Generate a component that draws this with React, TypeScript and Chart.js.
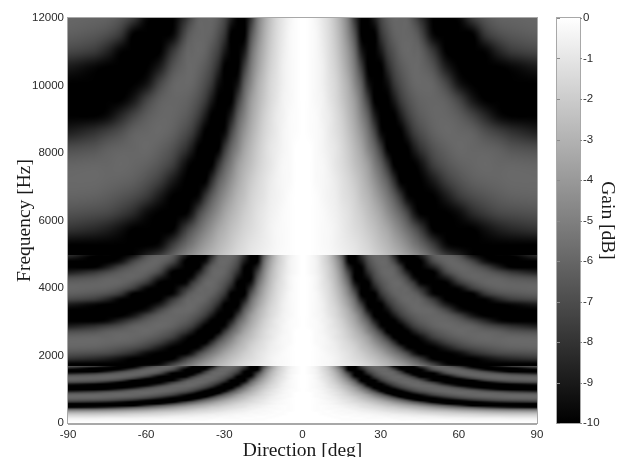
import React, { useEffect, useRef } from "react";
import { Chart, registerables } from "chart.js";

Chart.register(...registerables);

// Direction columns [deg]; the pattern is mirrored around 0.
const directions = [0, 2.5, 5, 7.5, 10, 12.5, 15, 17.5, 20, 22.5, 25, 27.5, 30, 32.5, 35, 37.5, 40, 42.5, 45, 50, 55, 60, 65, 70, 75, 80, 90];
// Rows: frequency relative to each sub-band's reference frequency.
const relFreq = [0, 0.1, 0.2, 0.3, 0.4, 0.5, 0.6, 0.7, 0.8, 0.9, 1, 1.1, 1.2, 1.3, 1.4, 1.5, 1.6, 1.7, 1.8, 1.9, 2, 2.1, 2.2, 2.3, 2.4, 2.5, 2.6, 2.7, 2.8, 2.9, 3, 3.1, 3.2, 3.3];
// Sub-bands: low/high edge [Hz] and reference frequency [Hz]
const bandLow = [0, 1700, 5000];
const bandHigh = [1700, 5000, 12000];
const bandRef = [530, 1600, 4800];
const bandFirstRow = [0, 10, 10];
const bandLastRow = [33, 32, 26];
// Gain [dB], one row per relFreq
const gain = [
  [0,0,0,0,0,0,0,0,0,0,0,0,0,0,0,0,0,0,0,0,0,0,0,0,0,0,0],
  [0,0,0,0,0,0,0,0,0,0,0,0,0,0,0,0,0,0,0,-.1,-.1,-.1,-.1,-.1,-.1,-.1,-.1],
  [0,0,0,0,0,0,-.1,-.1,-.1,-.1,-.1,-.1,-.1,-.1,-.1,-.2,-.2,-.2,-.2,-.2,-.2,-.3,-.3,-.3,-.3,-.3,-.3],
  [0,0,0,0,0,-.1,-.1,-.1,-.1,-.1,-.2,-.2,-.2,-.2,-.3,-.3,-.3,-.3,-.4,-.4,-.5,-.5,-.6,-.6,-.6,-.7,-.7],
  [0,0,0,0,-.1,-.1,-.1,-.1,-.2,-.2,-.2,-.3,-.3,-.4,-.4,-.5,-.5,-.6,-.6,-.7,-.9,-1,-1.1,-1.2,-1.2,-1.3,-1.3],
  [0,0,0,-.1,-.1,-.1,-.2,-.2,-.2,-.3,-.3,-.4,-.5,-.6,-.6,-.7,-.8,-.9,-1,-1.2,-1.4,-1.5,-1.6,-1.8,-1.9,-2,-2],
  [0,0,0,-.1,-.1,-.2,-.2,-.3,-.3,-.4,-.5,-.6,-.7,-.8,-1,-1.1,-1.2,-1.3,-1.5,-1.7,-1.9,-2.2,-2.4,-2.6,-2.8,-2.9,-3],
  [0,0,-.1,-.1,-.1,-.2,-.3,-.3,-.4,-.6,-.7,-.8,-1,-1.2,-1.3,-1.5,-1.6,-1.8,-2,-2.4,-2.7,-3.1,-3.4,-3.7,-4,-4.2,-4.4],
  [0,0,-.1,-.1,-.2,-.2,-.3,-.4,-.6,-.7,-.9,-1.1,-1.3,-1.5,-1.7,-1.9,-2.1,-2.4,-2.7,-3.2,-3.7,-4.3,-4.8,-5.3,-5.7,-6.1,-6.3],
  [0,0,-.1,-.1,-.2,-.3,-.4,-.6,-.7,-1,-1.2,-1.4,-1.6,-1.9,-2.1,-2.5,-2.8,-3.1,-3.4,-4.2,-5.1,-5.9,-6.8,-7.7,-8.5,-9.1,-9.6],
  [0,0,-.1,-.1,-.2,-.3,-.5,-.7,-.9,-1.2,-1.4,-1.7,-2,-2.4,-2.7,-3.1,-3.5,-3.9,-4.5,-5.6,-6.7,-8.2,-9.9,-10,-10,-10,-10],
  [0,0,-.1,-.2,-.3,-.5,-.7,-.9,-1.1,-1.4,-1.7,-2.1,-2.5,-2.9,-3.4,-3.9,-4.5,-5.2,-5.9,-7.6,-9.6,-10,-10,-10,-10,-10,-10],
  [0,0,-.1,-.2,-.3,-.5,-.8,-1.1,-1.4,-1.7,-2.1,-2.5,-3,-3.5,-4.2,-4.9,-5.7,-6.6,-7.7,-10,-10,-10,-10,-9.4,-8.8,-8.4,-8],
  [0,0,-.1,-.2,-.4,-.6,-.9,-1.2,-1.6,-2,-2.5,-3,-3.6,-4.4,-5.2,-6.1,-7.3,-9,-10,-10,-10,-9.5,-8.4,-7.7,-7.2,-7,-6.8],
  [0,0,-.1,-.3,-.5,-.7,-1.1,-1.4,-1.8,-2.4,-2.9,-3.6,-4.4,-5.3,-6.4,-7.9,-9.6,-10,-10,-10,-9,-7.8,-7.1,-6.7,-6.4,-6.2,-6.1],
  [0,0,-.2,-.3,-.5,-.8,-1.2,-1.6,-2.1,-2.7,-3.4,-4.3,-5.3,-6.4,-8.2,-10,-10,-10,-10,-9,-7.6,-6.8,-6.3,-6.1,-6,-5.9,-5.9],
  [0,0,-.2,-.3,-.6,-1,-1.4,-1.9,-2.5,-3.1,-3.9,-5.1,-6.3,-8.1,-10,-10,-10,-10,-9.4,-7.6,-6.7,-6.2,-6,-5.9,-6,-6,-6.1],
  [0,0,-.2,-.4,-.7,-1,-1.5,-2.1,-2.8,-3.6,-4.8,-6,-7.8,-10,-10,-10,-10,-9,-8,-6.8,-6.2,-5.9,-6,-6.1,-6.3,-6.7,-7],
  [0,-.1,-.2,-.4,-.8,-1.2,-1.7,-2.4,-3.2,-4.2,-5.5,-7.3,-9.6,-10,-10,-10,-8.9,-7.7,-7,-6.2,-5.9,-6,-6.2,-6.9,-7.5,-8.1,-8.8],
  [0,-.1,-.2,-.5,-.8,-1.3,-1.9,-2.7,-3.6,-4.9,-6.4,-8.8,-10,-10,-10,-8.9,-7.7,-6.9,-6.4,-6,-6,-6.4,-7.3,-8.5,-9.6,-10,-10],
  [0,-.1,-.3,-.5,-1,-1.5,-2.2,-3,-4,-5.6,-7.7,-10,-10,-10,-9,-7.7,-6.9,-6.4,-6.1,-6,-6.3,-7.4,-9.1,-10,-10,-10,-10],
  [0,-.1,-.3,-.6,-1.1,-1.6,-2.4,-3.3,-4.7,-6.4,-9.2,-10,-10,-9.4,-7.9,-7,-6.4,-6,-5.9,-6.1,-7.3,-9.3,-10,-10,-10,-10,-10],
  [0,-.1,-.3,-.6,-1.2,-1.8,-2.7,-3.8,-5.3,-7.6,-10,-10,-10,-8.4,-7.2,-6.5,-6.1,-5.9,-6,-6.8,-8.9,-10,-10,-10,-10,-9.7,-9],
  [0,-.1,-.3,-.7,-1.3,-2,-3,-4.2,-6,-9,-10,-10,-9,-7.5,-6.7,-6.1,-5.9,-6,-6.2,-7.9,-10,-10,-10,-9.8,-8.6,-7.7,-7.2],
  [0,-.1,-.3,-.8,-1.4,-2.2,-3.3,-4.8,-6.9,-10,-10,-10,-8,-6.9,-6.2,-6,-6,-6.2,-7,-9.7,-10,-10,-10,-7.9,-7,-6.6,-6.3],
  [0,-.1,-.4,-.9,-1.5,-2.4,-3.6,-5.3,-8,-10,-10,-8.9,-7.3,-6.4,-6,-6,-6.1,-6.9,-8.1,-10,-10,-9.7,-7.8,-6.7,-6.2,-6.1,-6],
  [0,-.1,-.4,-1,-1.6,-2.6,-4,-6,-9.2,-10,-10,-8,-6.8,-6.2,-5.9,-6,-6.7,-7.8,-9.7,-10,-10,-8,-6.7,-6.1,-6,-6.1,-6.2],
  [0,-.1,-.4,-1,-1.8,-2.8,-4.4,-6.7,-10,-10,-9.2,-7.3,-6.4,-6,-6,-6.4,-7.5,-9.4,-10,-10,-8.8,-6.8,-6.1,-6.1,-6.2,-6.6,-7],
  [0,-.2,-.5,-1.1,-1.9,-3,-4.8,-7.5,-10,-10,-8.3,-6.9,-6.1,-5.9,-6.1,-7.1,-8.8,-10,-10,-10,-7.3,-6.2,-6.1,-6.4,-7.1,-7.9,-8.8],
  [0,-.2,-.5,-1.2,-2,-3.3,-5.3,-8.6,-10,-9.8,-7.6,-6.5,-6,-6,-6.4,-7.9,-10,-10,-10,-8.6,-6.5,-6,-6.4,-7.4,-8.9,-10,-10],
  [0,-.2,-.5,-1.3,-2.2,-3.6,-5.8,-9.8,-10,-9,-7.1,-6.2,-5.9,-6.1,-7.3,-9.4,-10,-10,-10,-7.2,-6.1,-6.2,-7.3,-9.3,-10,-10,-10],
  [0,-.2,-.6,-1.3,-2.3,-4,-6.4,-10,-10,-8.3,-6.7,-6,-6,-6.4,-8.3,-10,-10,-10,-9.1,-6.5,-6.1,-6.8,-9,-10,-10,-10,-8.5],
  [0,-.2,-.6,-1.4,-2.5,-4.2,-7,-10,-10,-7.6,-6.4,-5.9,-6.1,-7.2,-9.6,-10,-10,-9.8,-7.8,-6.1,-6.3,-8.1,-10,-10,-9,-7.5,-6.8],
  [0,-.2,-.6,-1.5,-2.7,-4.6,-8,-10,-9.4,-7.1,-6.2,-6,-6.4,-8,-10,-10,-10,-8.4,-6.9,-6,-7,-10,-10,-8.2,-7,-6.4,-6],
];

const mirrorIdx = [...directions.keys()].slice(1).reverse();

function bandDataset(b: number) {
  const cols = [...mirrorIdx.map((i) => ({ d: -directions[i], i })), ...directions.map((d, i) => ({ d, i }))];
  const data: { x: number; y: number; v: number }[] = [];
  for (let j = bandFirstRow[b]; j <= bandLastRow[b]; j++) {
    for (const c of cols) data.push({ x: c.d, y: relFreq[j] * bandRef[b], v: gain[j][c.i] });
  }
  return {
    label: `band ${b + 1}`,
    data,
    pointRadius: 0,
    showLine: false,
    nCols: cols.length,
    low: bandLow[b],
    high: bandHigh[b],
  };
}

// Catmull-Rom weights, so that the raster between table entries is smooth
const crWeights = (t: number) => [
  0.5 * (-t + 2 * t * t - t * t * t),
  0.5 * (2 - 5 * t * t + 3 * t * t * t),
  0.5 * (t + 4 * t * t - 3 * t * t * t),
  0.5 * (-t * t + t * t * t),
];

const heatmap = {
  id: "heatmap",
  beforeDatasetsDraw(chart: any) {
    const { ctx, chartArea: a, scales } = chart;
    const X = scales.x, Y = scales.y;
    const W = Math.round(a.right - a.left), H = Math.round(a.bottom - a.top);
    const left = Math.round(a.left), top = Math.round(a.top);
    const img = ctx.createImageData(W, H);
    for (const ds of chart.data.datasets) {
      const n = ds.nCols, rows = ds.data.length / n;
      const yLo = Y.getPixelForValue(ds.low), yHi = Y.getPixelForValue(ds.high);
      const at = (j: number, i: number) =>
        ds.data[Math.max(0, Math.min(rows - 1, j)) * n + Math.max(0, Math.min(n - 1, i))].v;
      for (let j = 0; j < rows - 1; j++) {
        const y0 = Y.getPixelForValue(ds.data[j * n].y), y1 = Y.getPixelForValue(ds.data[(j + 1) * n].y);
        const yStart = Math.ceil(Math.max(y1, yHi)), yEnd = Math.min(y0, yLo);
        for (let i = 0; i < n - 1; i++) {
          const x0 = X.getPixelForValue(ds.data[i].x), x1 = X.getPixelForValue(ds.data[i + 1].x);
          const patch: number[][] = [];
          for (let dj = -1; dj <= 2; dj++) {
            const row: number[] = [];
            for (let di = -1; di <= 2; di++) row.push(at(j + dj, i + di));
            patch.push(row);
          }
          for (let py = yStart; py < yEnd; py++) {
            const wy = crWeights((y0 - py) / (y0 - y1));
            for (let px = Math.ceil(x0); px < x1; px++) {
              const wx = crWeights((px - x0) / (x1 - x0));
              let v = 0;
              for (let q = 0; q < 4; q++) for (let p = 0; p < 4; p++) v += wy[q] * wx[p] * patch[q][p];
              v = Math.max(-10, Math.min(0, v));
              const g = Math.round(255 * (1 + v / 10));
              const o = ((py - top) * W + (px - left)) * 4;
              if (o < 0 || o >= img.data.length) continue;
              img.data[o] = img.data[o + 1] = img.data[o + 2] = g;
              img.data[o + 3] = 255;
            }
          }
        }
      }
    }
    ctx.putImageData(img, left, top);
  },
  afterDatasetsDraw(chart: any) {
    const { ctx, chartArea: a, scales } = chart;
    const G = scales.gain;
    ctx.save();
    ctx.strokeStyle = "#a8a8a8";
    ctx.lineWidth = 1;
    ctx.strokeRect(a.left - 0.5, a.top - 0.5, a.right - a.left + 1, a.bottom - a.top + 1);
    ctx.lineWidth = 2;
    ctx.beginPath();
    ctx.moveTo(a.left, a.bottom + 1);
    ctx.lineTo(a.right, a.bottom + 1);
    ctx.stroke();
    const cx0 = G.left + 20, cx1 = G.left + 43;
    const top = G.getPixelForValue(0), bottom = G.getPixelForValue(-10);
    const grad = ctx.createLinearGradient(0, top, 0, bottom);
    grad.addColorStop(0, "#ffffff");
    grad.addColorStop(1, "#000000");
    ctx.fillStyle = grad;
    ctx.fillRect(cx0, top, cx1 - cx0, bottom - top);
    ctx.lineWidth = 1;
    ctx.strokeRect(cx0 - 0.5, top - 0.5, cx1 - cx0 + 1, bottom - top + 1);
    ctx.strokeStyle = "#8a8a8a";
    for (const t of G.ticks) {
      const y = Math.round(G.getPixelForValue(t.value)) + 0.5;
      ctx.beginPath();
      ctx.moveTo(cx0, y);
      ctx.lineTo(cx0 + 3, y);
      ctx.moveTo(cx1, y);
      ctx.lineTo(cx1 + 2, y);
      ctx.stroke();
    }
    ctx.restore();
  },
};

const tickFont = { family: "'Liberation Sans', Arial, sans-serif", size: 11.5 };
const titleFont = { family: "'Liberation Serif', 'Times New Roman', serif", size: 19.5 };
const tickColor = "#2a2a2a";
const titleColor = "#1a1a1a";
const plainTick = (v: any) => String(v);

export default function App() {
  const ref = useRef<HTMLCanvasElement>(null);
  useEffect(() => {
    const chart = new Chart(ref.current!, {
      type: "scatter",
      data: { datasets: [bandDataset(0), bandDataset(1), bandDataset(2)] as any },
      plugins: [heatmap],
      options: {
        animation: false,
        responsive: false,
        layout: { autoPadding: false, padding: { top: 18, left: 0, right: 0, bottom: 0 } },
        plugins: { legend: { display: false }, tooltip: { enabled: false } },
        scales: {
          x: {
            type: "linear",
            min: -90,
            max: 90,
            grid: { display: false, drawTicks: false },
            border: { display: false },
            ticks: { stepSize: 30, font: tickFont, color: tickColor, padding: 5, maxRotation: 0, autoSkip: false, callback: plainTick },
            title: { display: true, text: "Direction [deg]", font: titleFont, color: titleColor, padding: { top: 0, bottom: -6 } },
            afterFit: (s: any) => { s.height = 34; },
          },
          y: {
            type: "linear",
            min: 0,
            max: 12000,
            grid: { display: false, drawTicks: false },
            border: { display: false },
            ticks: { stepSize: 2000, font: tickFont, color: tickColor, padding: 4, autoSkip: false, callback: plainTick },
            title: { display: true, text: "Frequency [Hz]", font: titleFont, color: titleColor, padding: { top: 13, bottom: 0 } },
            afterFit: (s: any) => { s.width = 68; },
          },
          gain: {
            type: "linear",
            axis: "y",
            position: "right",
            min: -10,
            max: 0,
            grid: { display: true, drawOnChartArea: false, drawTicks: true, tickLength: 42, tickColor: "rgba(0,0,0,0)" },
            border: { display: false },
            ticks: { stepSize: 1, font: tickFont, color: tickColor, padding: 4, autoSkip: false, callback: plainTick },
            title: { display: true, text: "Gain [dB]", font: titleFont, color: titleColor, padding: { top: 8, bottom: 0 } },
            afterFit: (s: any) => { s.width = 90; },
          },
        } as any,
      },
    });
    return () => chart.destroy();
  }, []);
  return (
    <div style={{ position: "absolute", left: 0, top: 0, width: 627, height: 457 }}>
      <canvas ref={ref} width={627} height={457} style={{ display: "block", filter: "blur(0.4px)" }} />
    </div>
  );
}
